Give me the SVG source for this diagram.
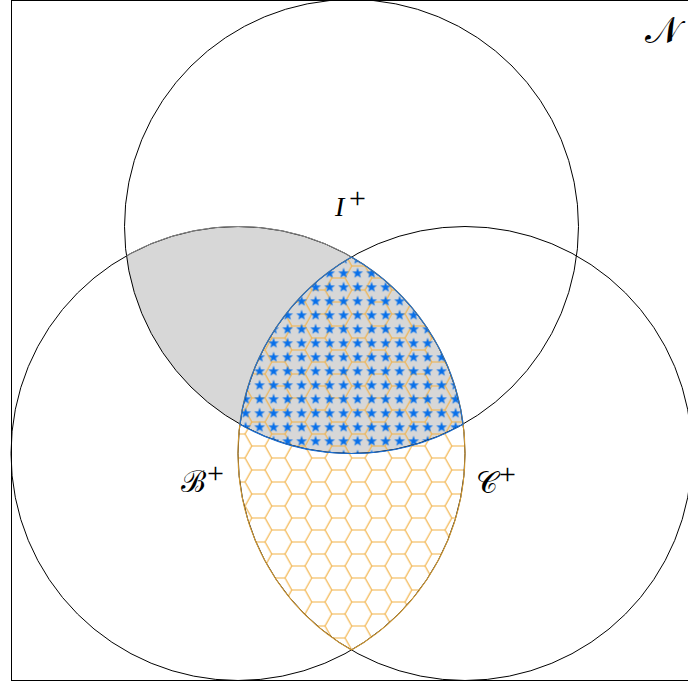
<svg xmlns="http://www.w3.org/2000/svg" width="688" height="684" viewBox="0 0 688 684">
  <style>
    .circ { fill: none; stroke: #000; stroke-width: 1; }
    .lbl { font-family: "Liberation Serif", "DejaVu Serif", serif; fill: #000; }
    .it { font-style: italic; }
    .sup { font-family: "Liberation Serif", serif; font-size: 30px; fill: #000; }
    .scr { font-family: "DejaVu Serif", "Noto Sans", "DejaVu Sans", serif; font-size: 30px; fill: #000; }
  </style>
  <defs>
    <clipPath id="clipT"><circle cx="351.5" cy="226.5" r="227"/></clipPath>
    <clipPath id="clipL"><circle cx="238" cy="453.5" r="227"/></clipPath>
    <pattern id="hex" patternUnits="userSpaceOnUse" x="291.7" y="476" width="40" height="24">
      <path d="M-1,18 H13.33 L20,6 H33.33 L40,18 H41 M13.33,18 L20,30 M33.33,30 L40,18 M13.33,-6 L20,6 M33.33,6 L40,-6 M-6.67,6 L0,18 M-6.67,30 L0,18" fill="none" stroke="#f2b145" stroke-width="1.15"/>
    </pattern>
    <pattern id="stars" patternUnits="userSpaceOnUse" x="336.6" y="266.3" width="14" height="14">
      <polygon points="7,1.3 8.35,5.15 12.42,5.24 9.18,7.71 10.35,11.6 7,9.3 3.65,11.6 4.82,7.71 1.58,5.24 5.65,5.15" fill="#0870ea"/>
    </pattern>
  </defs>

  <rect id="frame" x="11.5" y="0.5" width="700" height="680" fill="#fff" stroke="#000" stroke-width="1"/>

  <g id="region-I-B">
    <circle cx="351.5" cy="226.5" r="227" fill="#d7d7d7" clip-path="url(#clipL)"/>
  </g>
  <g id="region-B-C" clip-path="url(#clipL)">
    <circle cx="465" cy="453.5" r="227" fill="url(#hex)"/>
  </g>
  <g id="region-I-B-C" clip-path="url(#clipL)">
    <g clip-path="url(#clipT)">
      <circle cx="465" cy="453.5" r="227" fill="url(#stars)"/>
    </g>
  </g>

  <g id="circles">
    <circle id="circle-I" class="circ" cx="351.5" cy="226.5" r="227"/>
    <circle id="circle-B" class="circ" cx="238" cy="453.5" r="227"/>
    <circle id="circle-C" class="circ" cx="465" cy="453.5" r="227"/>
  </g>

  <g id="outlines" fill="none">
    <path d="M126.41,255.83 A227,227 0 0 1 351.5,256.91" stroke="#8a8a8a" stroke-width="1"/>
    <path d="M351.5,256.91 A227,227 0 0 0 351.5,650.09 A227,227 0 0 0 351.5,256.91 Z" stroke="#d39a33" stroke-width="1.1"/>
    <path d="M351.5,256.91 A227,227 0 0 0 239.91,424.17 A227,227 0 0 0 463.09,424.17 A227,227 0 0 0 351.5,256.91 Z" stroke="#1c6fd2" stroke-width="1.2"/>
  </g>

  <g id="labels">
    <g id="label-I"><text class="lbl it" x="335" y="216" font-size="28">I</text><text class="sup" x="349" y="208">+</text></g>
    <g id="label-B"><text class="scr" x="181" y="492">ℬ</text><text class="sup" x="207" y="483">+</text></g>
    <g id="label-C"><text class="scr" x="476" y="493">𝒞</text><text class="sup" x="499" y="484">+</text></g>
    <g id="label-N"><text class="scr" x="645" y="43" style="font-size:37px">𝒩</text></g>
  </g>
</svg>
